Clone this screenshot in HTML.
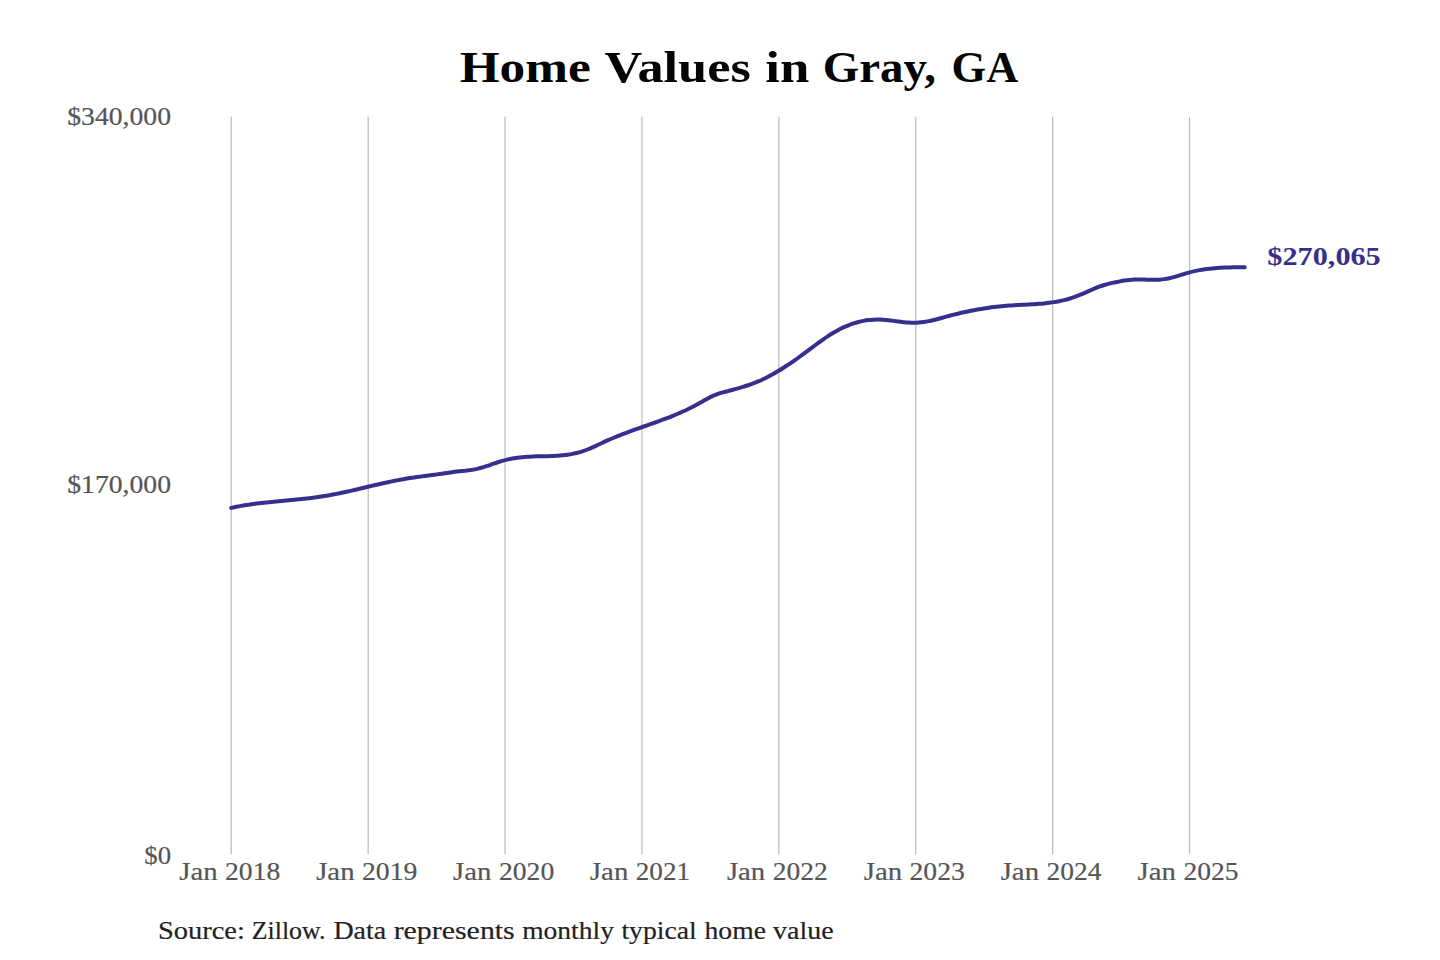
<!DOCTYPE html>
<html><head><meta charset="utf-8"><title>Home Values in Gray, GA</title>
<style>
html,body{margin:0;padding:0;background:#ffffff;width:1440px;height:960px;overflow:hidden;}
svg{display:block;font-family:"Liberation Serif",serif;}
</style></head><body>
<svg width="1440" height="960" viewBox="0 0 1440 960">
<rect width="1440" height="960" fill="#ffffff"/>
<line x1="231.25" y1="116.70" x2="231.25" y2="854.20" stroke="#bababa" stroke-width="1.2"/>
<line x1="368.15" y1="116.70" x2="368.15" y2="854.20" stroke="#bababa" stroke-width="1.2"/>
<line x1="505.05" y1="116.70" x2="505.05" y2="854.20" stroke="#bababa" stroke-width="1.2"/>
<line x1="641.95" y1="116.70" x2="641.95" y2="854.20" stroke="#bababa" stroke-width="1.2"/>
<line x1="778.85" y1="116.70" x2="778.85" y2="854.20" stroke="#bababa" stroke-width="1.2"/>
<line x1="915.75" y1="116.70" x2="915.75" y2="854.20" stroke="#bababa" stroke-width="1.2"/>
<line x1="1052.65" y1="116.70" x2="1052.65" y2="854.20" stroke="#bababa" stroke-width="1.2"/>
<line x1="1189.55" y1="116.70" x2="1189.55" y2="854.20" stroke="#bababa" stroke-width="1.2"/>
<path d="M231.25,507.89 C232.09,507.71 234.60,507.16 236.27,506.82 C237.94,506.48 239.62,506.17 241.29,505.87 C242.96,505.57 244.63,505.30 246.30,505.03 C247.97,504.76 249.65,504.51 251.32,504.27 C252.99,504.03 254.67,503.81 256.34,503.59 C258.01,503.37 259.69,503.17 261.36,502.97 C263.03,502.77 264.70,502.59 266.37,502.41 C268.04,502.23 269.72,502.07 271.39,501.90 C273.06,501.73 274.74,501.57 276.41,501.41 C278.08,501.25 279.76,501.10 281.43,500.95 C283.10,500.80 284.77,500.64 286.44,500.49 C288.11,500.34 289.79,500.18 291.46,500.03 C293.13,499.88 294.81,499.72 296.48,499.56 C298.15,499.40 299.83,499.23 301.50,499.06 C303.17,498.89 304.84,498.71 306.51,498.52 C308.18,498.33 309.86,498.14 311.53,497.93 C313.20,497.72 314.88,497.50 316.55,497.27 C318.22,497.04 319.90,496.80 321.57,496.54 C323.24,496.28 324.91,496.02 326.58,495.73 C328.25,495.44 329.93,495.14 331.60,494.83 C333.27,494.52 334.95,494.19 336.62,493.86 C338.29,493.53 339.97,493.18 341.64,492.82 C343.31,492.46 344.98,492.10 346.65,491.73 C348.32,491.36 350.00,490.98 351.67,490.60 C353.34,490.22 355.02,489.82 356.69,489.43 C358.36,489.04 360.04,488.65 361.71,488.25 C363.38,487.85 365.05,487.45 366.72,487.05 C368.39,486.65 370.07,486.25 371.74,485.86 C373.41,485.47 375.09,485.08 376.76,484.69 C378.43,484.30 380.11,483.92 381.78,483.54 C383.45,483.16 385.12,482.79 386.79,482.43 C388.46,482.07 390.14,481.71 391.81,481.36 C393.48,481.01 395.16,480.67 396.83,480.35 C398.50,480.03 400.18,479.72 401.85,479.42 C403.52,479.12 405.20,478.83 406.87,478.56 C408.54,478.29 410.21,478.03 411.88,477.78 C413.55,477.53 415.23,477.29 416.90,477.06 C418.57,476.83 420.25,476.60 421.92,476.38 C423.59,476.16 425.27,475.94 426.94,475.72 C428.61,475.50 430.28,475.28 431.95,475.06 C433.62,474.84 435.30,474.62 436.97,474.39 C438.64,474.16 440.32,473.93 441.99,473.69 C443.66,473.45 445.34,473.19 447.01,472.95 C448.68,472.71 450.35,472.47 452.02,472.24 C453.69,472.01 455.37,471.80 457.04,471.60 C458.71,471.41 460.39,471.25 462.06,471.07 C463.73,470.89 465.41,470.75 467.08,470.55 C468.75,470.35 470.42,470.15 472.09,469.87 C473.76,469.59 475.44,469.27 477.11,468.88 C478.78,468.49 480.46,468.02 482.13,467.53 C483.80,467.04 485.48,466.49 487.15,465.94 C488.82,465.39 490.49,464.80 492.16,464.23 C493.83,463.66 495.51,463.07 497.18,462.52 C498.85,461.97 500.53,461.43 502.20,460.94 C503.87,460.45 505.55,460.00 507.22,459.60 C508.89,459.20 510.56,458.85 512.23,458.54 C513.90,458.23 515.58,457.97 517.25,457.74 C518.92,457.51 520.60,457.32 522.27,457.16 C523.94,457.00 525.62,456.87 527.29,456.76 C528.96,456.65 530.63,456.57 532.30,456.50 C533.97,456.43 535.65,456.39 537.32,456.35 C538.99,456.31 540.67,456.28 542.34,456.24 C544.01,456.20 545.69,456.17 547.36,456.13 C549.03,456.09 550.70,456.05 552.37,455.98 C554.04,455.91 555.72,455.84 557.39,455.73 C559.06,455.62 560.74,455.49 562.41,455.33 C564.08,455.17 565.76,454.99 567.43,454.75 C569.10,454.51 570.78,454.24 572.45,453.91 C574.12,453.58 575.79,453.22 577.46,452.79 C579.13,452.36 580.81,451.88 582.48,451.33 C584.15,450.78 585.83,450.15 587.50,449.49 C589.17,448.83 590.85,448.10 592.52,447.36 C594.19,446.62 595.86,445.83 597.53,445.05 C599.20,444.27 600.88,443.47 602.55,442.70 C604.22,441.93 605.90,441.15 607.57,440.41 C609.24,439.67 610.92,438.94 612.59,438.24 C614.26,437.54 615.93,436.85 617.60,436.18 C619.27,435.51 620.95,434.85 622.62,434.20 C624.29,433.55 625.97,432.92 627.64,432.30 C629.31,431.68 630.99,431.06 632.66,430.46 C634.33,429.85 636.00,429.26 637.67,428.67 C639.34,428.08 641.02,427.48 642.69,426.89 C644.36,426.30 646.04,425.72 647.71,425.13 C649.38,424.54 651.06,423.96 652.73,423.36 C654.40,422.76 656.07,422.17 657.74,421.56 C659.41,420.95 661.09,420.34 662.76,419.72 C664.43,419.10 666.11,418.47 667.78,417.82 C669.45,417.17 671.13,416.51 672.80,415.83 C674.47,415.15 676.14,414.46 677.81,413.75 C679.48,413.04 681.16,412.30 682.83,411.54 C684.50,410.78 686.18,410.00 687.85,409.20 C689.52,408.39 691.20,407.57 692.87,406.71 C694.54,405.85 696.21,404.97 697.88,404.05 C699.55,403.13 701.23,402.15 702.90,401.21 C704.57,400.27 706.25,399.28 707.92,398.40 C709.59,397.52 711.27,396.65 712.94,395.91 C714.61,395.17 716.28,394.53 717.95,393.95 C719.62,393.37 721.30,392.89 722.97,392.41 C724.64,391.93 726.32,391.52 727.99,391.08 C729.66,390.64 731.34,390.23 733.01,389.78 C734.68,389.33 736.36,388.88 738.03,388.40 C739.70,387.92 741.37,387.42 743.04,386.90 C744.71,386.38 746.39,385.83 748.06,385.26 C749.73,384.69 751.41,384.09 753.08,383.45 C754.75,382.81 756.43,382.15 758.10,381.44 C759.77,380.73 761.44,379.98 763.11,379.19 C764.78,378.40 766.46,377.57 768.13,376.70 C769.80,375.83 771.48,374.93 773.15,373.99 C774.82,373.05 776.50,372.07 778.17,371.07 C779.84,370.06 781.51,369.02 783.18,367.96 C784.85,366.90 786.53,365.81 788.20,364.70 C789.87,363.59 791.55,362.45 793.22,361.29 C794.89,360.13 796.57,358.95 798.24,357.75 C799.91,356.55 801.58,355.34 803.25,354.11 C804.92,352.88 806.60,351.63 808.27,350.39 C809.94,349.14 811.62,347.88 813.29,346.64 C814.96,345.39 816.64,344.14 818.31,342.92 C819.98,341.70 821.65,340.48 823.32,339.31 C824.99,338.14 826.67,336.99 828.34,335.89 C830.01,334.79 831.69,333.73 833.36,332.73 C835.03,331.73 836.71,330.80 838.38,329.91 C840.05,329.03 841.72,328.19 843.39,327.42 C845.06,326.65 846.74,325.94 848.41,325.28 C850.08,324.62 851.76,324.02 853.43,323.47 C855.10,322.93 856.78,322.44 858.45,322.01 C860.12,321.58 861.79,321.20 863.46,320.88 C865.13,320.56 866.81,320.30 868.48,320.09 C870.15,319.88 871.83,319.73 873.50,319.64 C875.17,319.55 876.85,319.51 878.52,319.53 C880.19,319.55 881.86,319.63 883.53,319.75 C885.20,319.87 886.88,320.05 888.55,320.23 C890.22,320.42 891.90,320.64 893.57,320.86 C895.24,321.08 896.92,321.31 898.59,321.53 C900.26,321.74 901.93,321.97 903.60,322.15 C905.27,322.33 906.95,322.50 908.62,322.60 C910.29,322.71 911.97,322.78 913.64,322.78 C915.31,322.78 916.99,322.71 918.66,322.58 C920.33,322.45 922.01,322.25 923.68,322.00 C925.35,321.75 927.02,321.44 928.69,321.11 C930.36,320.78 932.04,320.39 933.71,319.99 C935.38,319.59 937.06,319.16 938.73,318.72 C940.40,318.28 942.08,317.81 943.75,317.36 C945.42,316.91 947.09,316.44 948.76,315.99 C950.43,315.54 952.11,315.10 953.78,314.68 C955.45,314.26 957.13,313.85 958.80,313.46 C960.47,313.06 962.15,312.68 963.82,312.31 C965.49,311.94 967.16,311.58 968.83,311.24 C970.50,310.90 972.18,310.57 973.85,310.25 C975.52,309.93 977.20,309.63 978.87,309.34 C980.54,309.05 982.22,308.77 983.89,308.51 C985.56,308.25 987.23,308.00 988.90,307.76 C990.57,307.52 992.25,307.30 993.92,307.09 C995.59,306.88 997.27,306.68 998.94,306.50 C1000.61,306.32 1002.29,306.15 1003.96,306.00 C1005.63,305.85 1007.30,305.70 1008.97,305.57 C1010.64,305.44 1012.32,305.33 1013.99,305.23 C1015.66,305.13 1017.34,305.04 1019.01,304.95 C1020.68,304.86 1022.36,304.78 1024.03,304.70 C1025.70,304.62 1027.37,304.54 1029.04,304.45 C1030.71,304.36 1032.39,304.27 1034.06,304.17 C1035.73,304.07 1037.41,303.96 1039.08,303.83 C1040.75,303.70 1042.43,303.56 1044.10,303.40 C1045.77,303.24 1047.44,303.06 1049.11,302.85 C1050.78,302.64 1052.46,302.41 1054.13,302.14 C1055.80,301.87 1057.48,301.57 1059.15,301.24 C1060.82,300.91 1062.50,300.54 1064.17,300.13 C1065.84,299.72 1067.51,299.26 1069.18,298.76 C1070.85,298.26 1072.53,297.72 1074.20,297.12 C1075.87,296.52 1077.55,295.86 1079.22,295.18 C1080.89,294.50 1082.57,293.77 1084.24,293.05 C1085.91,292.33 1087.59,291.58 1089.26,290.85 C1090.93,290.12 1092.60,289.38 1094.27,288.69 C1095.94,288.00 1097.62,287.31 1099.29,286.69 C1100.96,286.07 1102.64,285.49 1104.31,284.98 C1105.98,284.47 1107.66,284.04 1109.33,283.63 C1111.00,283.22 1112.67,282.88 1114.34,282.53 C1116.01,282.18 1117.69,281.83 1119.36,281.51 C1121.03,281.19 1122.71,280.86 1124.38,280.59 C1126.05,280.32 1127.73,280.07 1129.40,279.89 C1131.07,279.71 1132.74,279.59 1134.41,279.52 C1136.08,279.45 1137.76,279.45 1139.43,279.46 C1141.10,279.47 1142.78,279.52 1144.45,279.57 C1146.12,279.62 1147.80,279.69 1149.47,279.73 C1151.14,279.77 1152.81,279.81 1154.48,279.80 C1156.15,279.79 1157.83,279.76 1159.50,279.65 C1161.17,279.54 1162.85,279.38 1164.52,279.14 C1166.19,278.90 1167.87,278.56 1169.54,278.19 C1171.21,277.81 1172.88,277.36 1174.55,276.89 C1176.22,276.42 1177.90,275.90 1179.57,275.39 C1181.24,274.88 1182.92,274.35 1184.59,273.85 C1186.26,273.35 1187.94,272.84 1189.61,272.39 C1191.28,271.94 1192.95,271.54 1194.62,271.16 C1196.29,270.79 1197.97,270.45 1199.64,270.14 C1201.31,269.83 1202.99,269.56 1204.66,269.32 C1206.33,269.07 1208.01,268.86 1209.68,268.67 C1211.35,268.48 1213.02,268.31 1214.69,268.17 C1216.36,268.03 1218.04,267.91 1219.71,267.81 C1221.38,267.71 1223.06,267.62 1224.73,267.55 C1226.40,267.48 1228.08,267.43 1229.75,267.38 C1231.42,267.33 1233.09,267.31 1234.76,267.28 C1236.43,267.25 1238.11,267.23 1239.78,267.21 C1241.45,267.19 1243.96,267.17 1244.80,267.16" fill="none" stroke="#35308e" stroke-width="4.0" stroke-linecap="round" stroke-linejoin="round"/>
<text transform="translate(459.67,81.70) scale(1.1586,1.0000)" font-size="44.30" font-weight="bold" fill="#050505">Home</text>
<text transform="translate(604.42,81.70) scale(1.1808,1.0000)" font-size="44.30" font-weight="bold" fill="#050505">Values</text>
<text transform="translate(765.28,81.70) scale(1.1924,1.0000)" font-size="44.30" font-weight="bold" fill="#050505">in</text>
<text transform="translate(822.73,81.70) scale(1.0584,1.0000)" font-size="44.30" font-weight="bold" fill="#050505">Gray,</text>
<text transform="translate(951.60,81.70) scale(1.0041,1.0000)" font-size="44.30" font-weight="bold" fill="#050505">GA</text>
<text transform="translate(67.20,124.60) scale(1.0655,1.0000)" font-size="26.00" font-weight="normal" fill="#555555" stroke="#555555" stroke-width="0.2">$340,000</text>
<text transform="translate(67.20,492.50) scale(1.0655,1.0000)" font-size="26.00" font-weight="normal" fill="#555555" stroke="#555555" stroke-width="0.2">$170,000</text>
<text transform="translate(144.24,864.00) scale(1.0311,1.0000)" font-size="26.00" font-weight="normal" fill="#555555" stroke="#555555" stroke-width="0.2">$0</text>
<text transform="translate(179.23,879.60) scale(1.1077,1.0000)" font-size="26.00" font-weight="normal" fill="#555555" stroke="#555555" stroke-width="0.2">Jan</text>
<text transform="translate(225.05,879.60) scale(1.0635,1.0000)" font-size="26.00" font-weight="normal" fill="#555555" stroke="#555555" stroke-width="0.2">2018</text>
<text transform="translate(316.18,879.60) scale(1.1067,1.0000)" font-size="26.00" font-weight="normal" fill="#555555" stroke="#555555" stroke-width="0.2">Jan</text>
<text transform="translate(361.97,879.60) scale(1.0649,1.0000)" font-size="26.00" font-weight="normal" fill="#555555" stroke="#555555" stroke-width="0.2">2019</text>
<text transform="translate(453.08,879.60) scale(1.1062,1.0000)" font-size="26.00" font-weight="normal" fill="#555555" stroke="#555555" stroke-width="0.2">Jan</text>
<text transform="translate(498.88,879.60) scale(1.0645,1.0000)" font-size="26.00" font-weight="normal" fill="#555555" stroke="#555555" stroke-width="0.2">2020</text>
<text transform="translate(589.93,879.60) scale(1.1067,1.0000)" font-size="26.00" font-weight="normal" fill="#555555" stroke="#555555" stroke-width="0.2">Jan</text>
<text transform="translate(635.79,879.60) scale(1.0421,1.0000)" font-size="26.00" font-weight="normal" fill="#555555" stroke="#555555" stroke-width="0.2">2021</text>
<text transform="translate(726.89,879.60) scale(1.1057,1.0000)" font-size="26.00" font-weight="normal" fill="#555555" stroke="#555555" stroke-width="0.2">Jan</text>
<text transform="translate(772.72,879.60) scale(1.0585,1.0000)" font-size="26.00" font-weight="normal" fill="#555555" stroke="#555555" stroke-width="0.2">2022</text>
<text transform="translate(863.73,879.60) scale(1.1077,1.0000)" font-size="26.00" font-weight="normal" fill="#555555" stroke="#555555" stroke-width="0.2">Jan</text>
<text transform="translate(909.56,879.60) scale(1.0616,1.0000)" font-size="26.00" font-weight="normal" fill="#555555" stroke="#555555" stroke-width="0.2">2023</text>
<text transform="translate(1000.68,879.60) scale(1.1067,1.0000)" font-size="26.00" font-weight="normal" fill="#555555" stroke="#555555" stroke-width="0.2">Jan</text>
<text transform="translate(1046.47,879.60) scale(1.0583,1.0000)" font-size="26.00" font-weight="normal" fill="#555555" stroke="#555555" stroke-width="0.2">2024</text>
<text transform="translate(1137.58,879.60) scale(1.1062,1.0000)" font-size="26.00" font-weight="normal" fill="#555555" stroke="#555555" stroke-width="0.2">Jan</text>
<text transform="translate(1183.38,879.60) scale(1.0601,1.0000)" font-size="26.00" font-weight="normal" fill="#555555" stroke="#555555" stroke-width="0.2">2025</text>
<text transform="translate(157.95,938.70) scale(1.1124,1.0000)" font-size="25.60" font-weight="normal" fill="#222222" stroke="#222222" stroke-width="0.2">Source:</text>
<text transform="translate(251.75,938.70) scale(1.0097,1.0000)" font-size="25.60" font-weight="normal" fill="#222222" stroke="#222222" stroke-width="0.2">Zillow.</text>
<text transform="translate(333.38,938.70) scale(1.0915,1.0000)" font-size="25.60" font-weight="normal" fill="#222222" stroke="#222222" stroke-width="0.2">Data</text>
<text transform="translate(393.65,938.70) scale(1.1674,1.0000)" font-size="25.60" font-weight="normal" fill="#222222" stroke="#222222" stroke-width="0.2">represents</text>
<text transform="translate(522.18,938.70) scale(1.0755,1.0000)" font-size="25.60" font-weight="normal" fill="#222222" stroke="#222222" stroke-width="0.2">monthly</text>
<text transform="translate(621.38,938.70) scale(1.0819,1.0000)" font-size="25.60" font-weight="normal" fill="#222222" stroke="#222222" stroke-width="0.2">typical</text>
<text transform="translate(704.48,938.70) scale(1.0805,1.0000)" font-size="25.60" font-weight="normal" fill="#222222" stroke="#222222" stroke-width="0.2">home</text>
<text transform="translate(773.12,938.70) scale(1.0916,1.0000)" font-size="25.60" font-weight="normal" fill="#222222" stroke="#222222" stroke-width="0.2">value</text>
<text transform="translate(1267.37,265.10) scale(1.1630,1.0000)" font-size="26.00" font-weight="bold" fill="#35308e">$270,065</text>
</svg>
</body></html>
